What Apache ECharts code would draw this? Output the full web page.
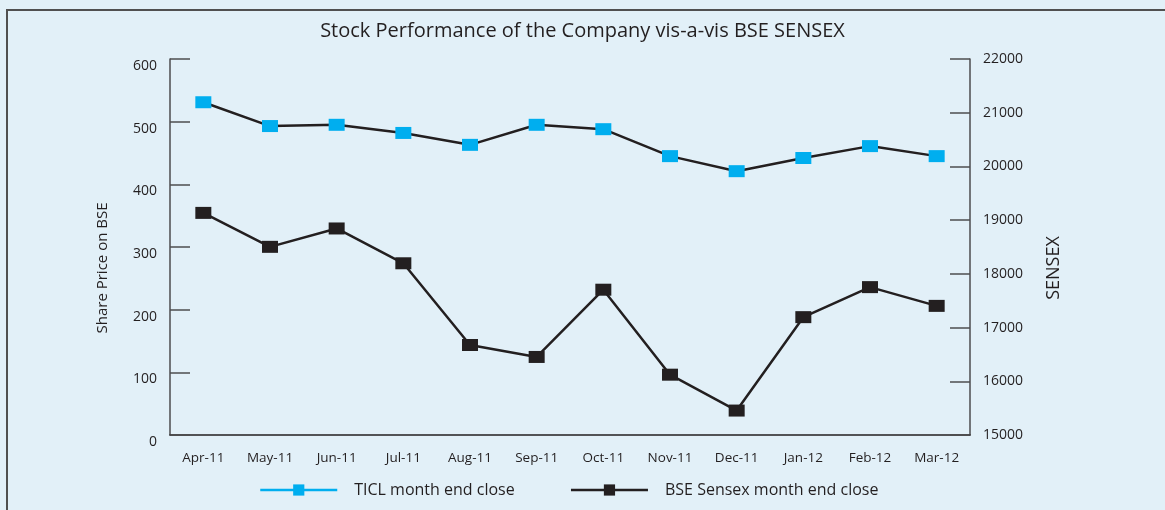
<!DOCTYPE html>
<html>
<head>
<meta charset="utf-8">
<script src="https://cdn.jsdelivr.net/npm/echarts@6/dist/echarts.min.js"></script>
<style>
  html, body { margin: 0; padding: 0; background: #e2f0f8; }
  #chart { width: 1165px; height: 510px; }
</style>
</head>
<body>
<div id="chart"></div>
<script>
// months on the category axis
const months = ['Apr-11', 'May-11', 'Jun-11', 'Jul-11', 'Aug-11', 'Sep-11',
  'Oct-11', 'Nov-11', 'Dec-11', 'Jan-12', 'Feb-12', 'Mar-12'];
// TICL share price (left axis)
const ticlClose = [531, 493, 495, 482, 463, 495, 488, 445, 421, 442, 461, 445];
// BSE Sensex (right axis)
const sensexClose = [19135, 18503, 18845, 18197, 16676, 16453, 17705, 16123, 15455, 17194, 17753, 17404];

const ink = '#231f20';
const axisInk = '#4d4d4f';
const blue = '#00aeef';
const font = 'Open Sans';

const chart = echarts.init(document.getElementById('chart'));

chart.setOption({
  backgroundColor: '#e2f0f8',
  animation: false,
  textStyle: { fontFamily: font, color: ink },
  title: {
    text: 'Stock Performance of the Company vis-a-vis BSE SENSEX',
    left: 'center',
    top: 16,
    textStyle: { fontFamily: font, fontSize: 20, fontWeight: 'normal', color: ink }
  },
  legend: {
    left: 259,
    top: 482,
    padding: 0,
    itemGap: 55,
    itemWidth: 77,
    itemHeight: 14,
    textStyle: { fontFamily: font, fontSize: 16, color: ink, padding: [0, 0, 0, 12] },
    data: [{
      name: 'TICL month end close',
      itemStyle: { color: blue },
      lineStyle: { color: blue, width: 2.5 }
    }, {
      name: 'BSE Sensex month end close',
      itemStyle: { color: ink },
      lineStyle: { color: ink, width: 2.5 }
    }]
  },
  grid: { left: 170, right: 195, top: 59, bottom: 75 },
  xAxis: {
    type: 'category',
    data: months,
    boundaryGap: true,
    axisLine: { lineStyle: { color: ink, width: 1.5 } },
    axisTick: { inside: true, length: 10, lineStyle: { color: ink, width: 1.5 } },
    axisLabel: { fontSize: 13.5, color: ink, margin: 16 }
  },
  yAxis: [{
    type: 'value',
    min: 0,
    max: 600,
    interval: 100,
    position: 'left',
    name: 'Share Price on BSE',
    nameLocation: 'middle',
    nameGap: 60,
    nameTextStyle: { fontSize: 15, color: ink, padding: [0, 42, 0, 0] },
    splitLine: { show: false },
    axisLine: { show: true, lineStyle: { color: axisInk, width: 1.5 } },
    axisTick: { show: true, inside: true, length: 20, lineStyle: { color: axisInk, width: 1.5 } },
    axisLabel: { fontSize: 14, color: ink, margin: 13, verticalAlign: 'top' }
  }, {
    type: 'value',
    min: 15000,
    max: 22000,
    interval: 1000,
    position: 'right',
    name: 'SENSEX',
    nameLocation: 'middle',
    nameGap: 75,
    nameTextStyle: { fontSize: 18, color: ink, padding: [0, 42, 0, 0] },
    splitLine: { show: false },
    axisLine: { show: true, lineStyle: { color: axisInk, width: 1.5 } },
    axisTick: { show: true, inside: true, length: 20, lineStyle: { color: axisInk, width: 1.5 } },
    axisLabel: { fontSize: 14, color: ink, margin: 13, formatter: v => String(v) }
  }],
  series: [{
    name: 'TICL month end close',
    type: 'line',
    yAxisIndex: 0,
    data: ticlClose,
    symbol: 'rect',
    symbolSize: [16, 12],
    itemStyle: { color: blue },
    lineStyle: { color: ink, width: 2.5 },
    z: 3
  }, {
    name: 'BSE Sensex month end close',
    type: 'line',
    yAxisIndex: 1,
    data: sensexClose,
    symbol: 'rect',
    symbolSize: [16, 12],
    itemStyle: { color: ink },
    lineStyle: { color: ink, width: 2.5 },
    z: 3
  }],
  graphic: [{
    type: 'polyline',
    shape: { points: [[7, 520], [7, 10], [1175, 10]] },
    style: { stroke: '#505050', lineWidth: 2, fill: null },
    silent: true
  }]
});
</script>
</body>
</html>
